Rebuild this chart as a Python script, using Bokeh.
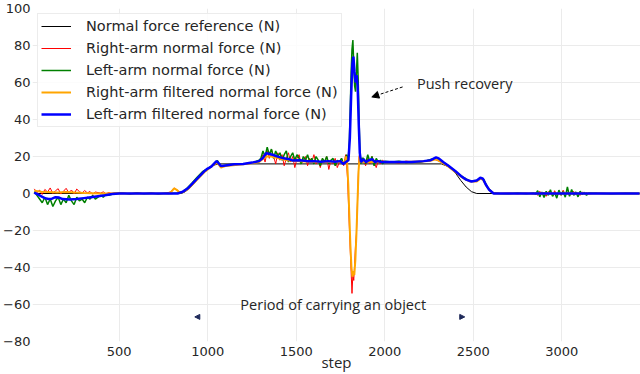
from bokeh.plotting import figure
from bokeh.models import Range1d, FixedTicker, Label, Arrow, NormalHead
from bokeh.embed import file_html
from bokeh.resources import INLINE

# ---------------- data ----------------
ref_step = [20, 850, 870, 900, 950, 1000, 1030, 1060, 2320, 2360, 2400, 2430, 2460, 2490, 2520, 3440]
ref_force = [0, 0, 0.8, 3, 8.5, 13, 15.2, 16, 16, 14.5, 11, 7, 3.5, 1, 0, 0]

lf_step = [20, 40, 60, 80, 100, 120, 140, 160, 180, 220, 260, 300, 340, 380, 420, 460, 500, 830, 860, 890,
           920, 950, 980, 1000, 1020, 1040, 1050, 1060, 1075, 1090, 1150, 1200, 1250, 1290, 1310, 1330,
           1345, 1370, 1400, 1430, 1460, 1480, 1520, 1560, 1600, 1640, 1680, 1720, 1750, 1765, 1780,
           1795, 1803, 1810, 1817, 1823, 1829, 1835, 1841, 1847, 1853, 1859, 1866, 1880, 1895, 1910,
           1930, 1945, 1960, 1980, 2050, 2150, 2220, 2260, 2290, 2305, 2330, 2360, 2400, 2430, 2460,
           2490, 2520, 2540, 2555, 2570, 2590, 2615, 3440]
lf_force = [0.5, -0.5, -1.5, -2.5, -3, -2.8, -2, -2.2, -3, -3.2, -3, -2.5, -2, -1.5, -1, -0.3, 0, 0, 1, 3,
            6, 9, 12, 13.5, 14.5, 16.5, 17.5, 16.5, 14.8, 15, 15.8, 16, 16.7, 17.5, 19, 21.8,
            21.5, 20.8, 19.8, 19, 18.5, 17.8, 18, 17.5, 17.5, 17.2, 17.5, 17.2, 17.5, 16, 17,
            18, 30, 52, 70, 74, 66, 60, 64, 58, 38, 22, 17, 18.5, 17, 18,
            18.5, 17, 17.5, 17, 17, 17, 17.5, 18, 19.5, 19, 17, 15, 12, 9.5, 7.5,
            6.5, 7, 8.5, 8, 5, 2, 0, 0]

rf_step = [20, 60, 100, 150, 200, 250, 300, 350, 400, 780, 795, 810, 825, 840, 860, 890, 920, 950, 980,
           1000, 1040, 1055, 1075, 1100, 1200, 1290, 1330, 1360, 1400, 1450, 1500, 1600, 1700, 1750,
           1775, 1782, 1788, 1794, 1800, 1806, 1812, 1818, 1823, 1828, 1834, 1840, 1846, 1852, 1858,
           1866, 1880, 1950, 2100, 2250, 2290, 2320, 2360, 2400, 2440, 2480, 2520, 2540, 2555, 2575,
           2600, 2620, 3440]
rf_force = [1.5, 1, 0.8, 0.5, 0.8, 0.5, 0.3, 0.2, 0, 0, 1, 2.8, 2, 0.5, 0.8, 2.5, 5.5, 8.5, 11.5,
            13, 16, 16.5, 14, 14.8, 15.8, 17, 20, 20, 19, 18, 17.5, 17, 17, 17,
            17, 20, 16, 5, -12, -28, -40, -45, -42, -44, -36, -22, -5, 12, 20,
            17, 17, 17, 17, 17.5, 18.5, 17, 14.5, 11.5, 8.5, 6.5, 6.5, 8, 7.5, 4,
            1, 0, 0]

noisy_a = list(range(20, 471, 15))        # 31 steps
noisy_b = list(range(1300, 1769, 12))     # 40 steps
spike = list(range(1775, 1871, 5))        # 20 steps
noisy_c = list(range(1880, 2001, 12))     # 11 steps
noisy_d = list(range(2852, 3153, 12))     # 26 steps

mid1_step = [520, 560, 600, 640, 680, 720, 760, 790, 810, 830, 850, 880, 910, 940, 970, 1000, 1030, 1055,
             1075, 1100, 1140, 1180, 1220, 1260, 1290]
mid2_step = [2040, 2080, 2120, 2160, 2200, 2240, 2280, 2320, 2360, 2400, 2440, 2480, 2520, 2545, 2560,
             2580, 2610, 2650, 2700, 2750, 2800, 2840]
end_step = [3200, 3280, 3360, 3440]

r_a = [2.5, 0.5, 1.8, -0.5, 2.2, 0.8, 3, 0, 1.5, 2.6, -0.3, 1.2, 2.8, 0.4, 1.9, -0.2, 2.4, 1, 0.2, 1.6,
       0.3, 1.1, -0.4, 0.8, 0.5, 0.2, 0.9, -0.2, 0.5, 0.1, 0.3]
r_mid1 = [0.3, -0.2, 0.4, -0.1, 0.3, -0.2, 0.2, 0.8, 3, 1.5, 0.5, 1.8, 4.8, 7.8, 10.5, 13, 15, 16.8,
          14, 15, 15.2, 15.8, 16, 16.5, 17]
r_b = [18, 21, 17, 23, 19, 24, 20, 16, 22, 18, 21, 15, 19, 22, 17, 20, 14, 19, 21, 16,
       18, 20, 15, 19, 17, 21, 16, 18, 14, 19, 17, 20, 13, 18, 16, 19, 14, 17, 19, 15]
r_spike = [19, 21, 15, 8, -5, -18, -30, -42, -54, -44, -47, -38, -28, -22, -8, 8, 20, 22, 18, 17]
r_c = [18, 15, 19, 16, 20, 17, 14, 18, 16, 18, 17]
r_mid2 = [17, 16.5, 17.5, 17, 17, 17.5, 18.5, 17, 14.5, 11.5, 8.5, 6.5, 6.5, 8, 7, 3.5, 0.5, 0, 0.2,
          -0.2, 0.2, -0.3]
r_d = [0.5, -1, 1.2, -0.5, 0.8, -1.5, 1, 0.3, -1.2, 1.5, -0.8, 0.6, -1, 1.8, -0.4, 0.9, -1.3, 0.5,
       1.1, -0.7, 0.4, -1, 0.8, -0.3, 0.5, -0.2]
r_end = [0.2, -0.1, 0.1, 0]

g_a = [1, -1, -3, -5, -2, -6, -3, -7, -4, -2, -6, -3, -5, -1, -4, -6, -2, -4, -3, -5,
       -2, -3, -1, -3, -2, -1, -2, 0, -1, -0.5, 0]
g_mid1 = [0.2, -0.3, 0.3, -0.2, 0.2, -0.3, 0.2, 0, 0.2, 0.2, 0.5, 2.5, 5.5, 8.8, 11.8, 13.5, 15.5, 17.8,
          14.5, 15.2, 15.6, 16, 16.2, 16.8, 18]
g_b = [19, 23, 20, 25, 21, 24, 19, 23, 20, 22, 18, 21, 23, 17, 20, 22, 18, 21, 19, 16,
       20, 18, 21, 17, 19, 16, 20, 18, 15, 19, 17, 20, 16, 18, 19, 15, 18, 17, 19, 16]
g_spike = [17, 19, 21, 18, 20, 28, 45, 65, 78, 83, 70, 58, 55, 65, 76, 62, 40, 22, 16, 19]
g_c = [19, 16, 21, 17, 20, 15, 19, 17, 18, 16, 17.5]
g_mid2 = [17, 17.5, 16.8, 17.2, 17, 17.8, 19, 17.5, 15, 12, 9, 6.8, 7, 8.5, 7.5, 3.5, 0.3, 0, -0.2,
          0.3, -0.2, 0.3]
g_d = [-0.5, 1.5, -1.8, 0.8, -2.2, 1.2, -1, 2, -1.5, 0.5, -2.5, 1.8, -0.8, 1, -2, 3.5, -1.5, 2.2,
       -1, 0.8, -1.8, 1.2, -0.5, 0.6, -1, 0.3]
g_end = [0.1, -0.1, 0.1, 0]

raw_step = noisy_a + mid1_step + noisy_b + spike + noisy_c + mid2_step + noisy_d + end_step
r_force = r_a + r_mid1 + r_b + r_spike + r_c + r_mid2 + r_d + r_end
l_force = g_a + g_mid1 + g_b + g_spike + g_c + g_mid2 + g_d + g_end

y_ticks = [-80, -60, -40, -20, 0, 20, 40, 60, 80, 100]
x_ticks = [500, 1000, 1500, 2000, 2500, 3000]

# ---------------- figure ----------------
p = figure(width=640, height=374, output_backend="svg", toolbar_location=None,
           x_range=Range1d(10, 3445), y_range=Range1d(-80, 100),
           min_border_top=8, min_border_bottom=0, min_border_right=0, min_border_left=0)
p.outline_line_color = None
p.background_fill_color = "white"

p.line(ref_step, ref_force, color="black", line_width=1, legend_label="Normal force reference (N)")
p.line(raw_step, r_force, color="red", line_width=1, legend_label="Right-arm normal force (N)")
p.line(raw_step, l_force, color="green", line_width=1.5, legend_label="Left-arm normal force (N)")
p.line(rf_step, rf_force, color="orange", line_width=2, legend_label="Right-arm filtered normal force (N)")
p.line(lf_step, lf_force, color="blue", line_width=2.5, legend_label="Left-arm filtered normal force (N)")

for ax in (p.xaxis[0], p.yaxis[0]):
    ax.axis_line_color = None
    ax.major_tick_line_color = None
    ax.minor_tick_line_color = None
    ax.major_tick_out = 0
    ax.major_tick_in = 0
    ax.minor_tick_out = 0
    ax.minor_tick_in = 0
    ax.major_label_text_font = "DejaVu Sans"
    ax.major_label_text_font_size = "13px"
    ax.major_label_text_color = "#262626"

p.yaxis.ticker = FixedTicker(ticks=y_ticks)
p.yaxis.major_label_overrides = {t: (("\u2212" + str(-t)) if t < 0 else str(t)) for t in y_ticks}
p.yaxis.major_label_standoff = 2
p.xaxis.ticker = FixedTicker(ticks=x_ticks)
p.xaxis.major_label_standoff = 5
p.xaxis.axis_label = "step"
p.xaxis.axis_label_text_font = "Open Sans"
p.xaxis.axis_label_text_font_style = "normal"
p.xaxis.axis_label_text_font_size = "15px"
p.xaxis.axis_label_text_color = "#262626"
p.xaxis.axis_label_standoff = -7

p.xgrid.grid_line_color = "#ebebeb"
p.ygrid.grid_line_color = "#ebebeb"
p.xgrid.ticker = FixedTicker(ticks=x_ticks)
p.ygrid.ticker = FixedTicker(ticks=y_ticks)

lg = p.legend[0]
lg.location = "top_left"
lg.margin = 5
lg.padding = 3
lg.spacing = 4
lg.glyph_width = 30
lg.glyph_height = 18
lg.label_height = 18
lg.label_standoff = 15
lg.label_text_font = "DejaVu Sans"
lg.label_text_font_size = "14.5px"
lg.label_text_color = "#262626"
lg.border_line_color = "#d9d9d9"
lg.background_fill_alpha = 0.85

p.add_layout(Label(x=2182, y=59.4, text="Push recovery", text_font="Open Sans",
                   text_font_size="14.5px", text_baseline="middle", text_align="left",
                   text_color="#262626"))
p.add_layout(Arrow(end=NormalHead(size=7, fill_color="black", line_color="black"),
                   x_start=2101, y_start=57.6, x_end=1927, y_end=52.2,
                   line_color="black", line_width=1, line_dash="3 2"))
p.add_layout(Label(x=1709, y=-59.8, text="Period of carrying an object", text_font="Open Sans",
                   text_font_size="14.5px", text_baseline="middle", text_align="center",
                   text_color="#262626"))
p.add_layout(Arrow(start=NormalHead(size=5, fill_color="#1f2a5a", line_color="#1f2a5a"),
                   end=NormalHead(size=5, fill_color="#1f2a5a", line_color="#1f2a5a"),
                   x_start=927, y_start=-66.7, x_end=2452, y_end=-66.7,
                   line_alpha=0))

open("out.html", "w").write(file_html(p, INLINE))
